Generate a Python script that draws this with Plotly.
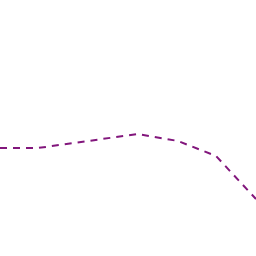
import plotly.graph_objects as go

x_vals = [0, 38, 138, 178, 216, 256]
y_vals = [108, 108, 122, 115, 100, 57]

fig = go.Figure(go.Scatter(x=x_vals, y=y_vals, mode="lines",
                           line=dict(color="#82167C", width=2, dash="7px,6px")))
fig.update_layout(width=256, height=256, margin=dict(l=0, r=0, t=0, b=0),
                  paper_bgcolor="white", plot_bgcolor="white", showlegend=False)
fig.update_xaxes(visible=False, range=[0, 256])
fig.update_yaxes(visible=False, range=[0, 256])
fig.write_html("out.html")
